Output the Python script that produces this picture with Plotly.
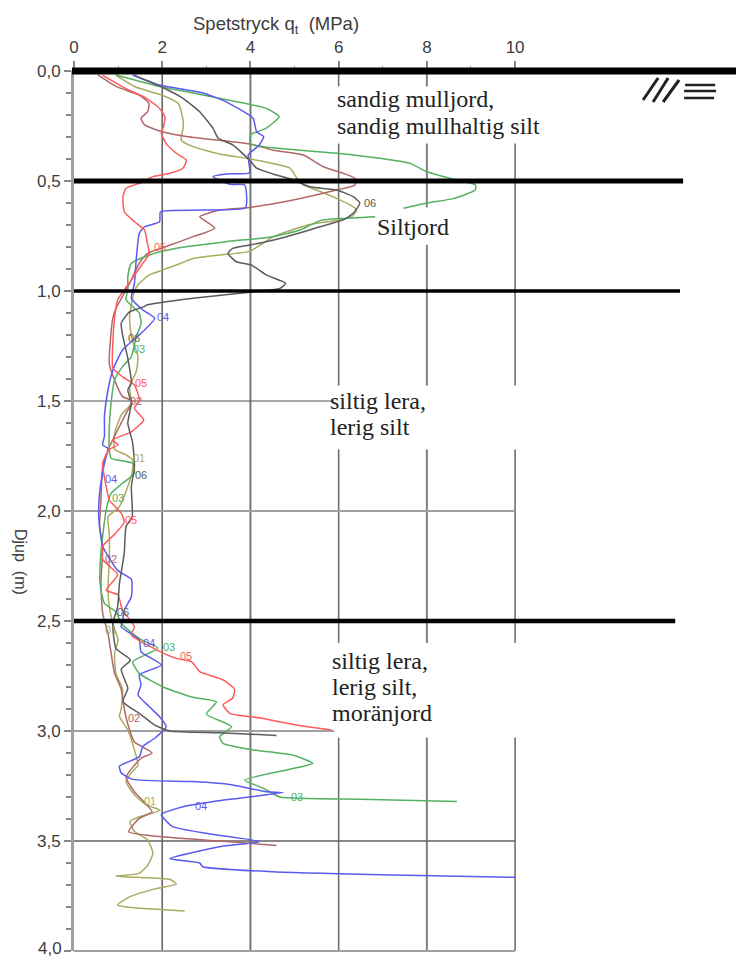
import plotly.graph_objects as go

q01 = [.95,1.41,2.0,2.36,2.45,2.48,2.43,2.7,3.3,3.91,4.5,4.9,5.03,5.2,5.58,5.95,6.26,6.41,6.3,6.03,5.3,4.52,3.98,3.3,2.7,2.32,2.0,1.71,1.48,1.37,1.26,1.3,1.45,1.41,1.26,1.3,1.07,.92,.92,1.18,1.33,1.32,1.22,1.03,.77,.8,.8,.77,.8,.89,1.0,.92,.95,1.1,1.07,1.03,1.22,1.37,1.45,1.3,1.18,1.37,1.64,1.95,1.48,1.27,1.37,1.67,1.79,1.67,1.48,.95,1.64,2.17,2.32,1.79,1.27,.99,1.18,2.51]
d01 = [.02,.074,.11,.147,.2,.253,.314,.344,.377,.397,.42,.442,.48,.518,.548,.579,.609,.632,.662,.677,.7,.753,.82,.836,.852,.882,.905,.927,.965,1.0,1.117,1.208,1.298,1.367,1.435,1.51,1.564,1.647,1.72,1.745,1.768,1.82,1.889,1.98,2.026,2.1,2.22,2.36,2.435,2.52,2.586,2.647,2.738,2.81,2.9,2.935,2.995,3.086,3.155,3.19,3.23,3.29,3.336,3.36,3.39,3.41,3.457,3.495,3.556,3.61,3.647,3.66,3.667,3.674,3.695,3.72,3.753,3.79,3.8,3.818]
q02 = [.54,.95,1.48,1.7,1.67,1.52,1.6,2.0,2.55,3.23,3.98,4.52,5.2,5.65,6.1,6.37,6.37,5.95,4.97,3.98,3.3,2.85,3.0,3.19,2.7,2.09,1.67,1.48,1.26,1.14,.95,.88,.84,.8,.92,1.1,1.33,1.18,.92,.8,.65,.61,.58,.65,.61,.65,.77,.92,1.07,1.14,1.26,1.37,1.77,1.52,1.18,1.37,1.77,1.48,1.24,1.94,3.3,4.59]
d02 = [.018,.07,.11,.147,.185,.215,.245,.276,.298,.314,.332,.36,.382,.435,.465,.488,.518,.541,.586,.62,.632,.662,.685,.715,.753,.798,.829,.874,.965,1.01,1.08,1.124,1.19,1.33,1.405,1.48,1.5,1.556,1.66,1.71,1.8,1.95,2.07,2.16,2.33,2.465,2.556,2.738,2.81,2.9,2.995,3.05,3.1,3.124,3.21,3.276,3.367,3.397,3.458,3.48,3.5,3.52]
q03 = [.95,1.94,2.7,3.6,4.36,4.65,4.36,4.0,4.0,4.29,5.12,5.95,6.94,7.62,8.0,8.53,9.1,9.1,8.6,8,7.47,None,6.83,6.1,5.58,5.12,4.52,3.45,2.32,1.71,1.3,1.22,1.22,1.18,1.48,1.52,1.41,1.3,1.1,.92,.84,.8,.8,.84,1.33,1.37,1.1,.84,.73,.61,.59,.69,.95,1.07,1.48,1.9,1.33,1.48,2.02,2.7,3.23,3.0,3.57,3.3,3.38,4.06,4.97,5.41,4.82,3.87,4.29,4.67,6.5,8.68]
d03 = [.018,.07,.1,.136,.17,.208,.26,.29,.33,.344,.36,.374,.397,.42,.458,.488,.518,.54,.58,.6,.624,None,.662,.67,.68,.723,.753,.776,.806,.836,.874,.935,.995,1.04,1.1,1.147,1.208,1.298,1.344,1.405,1.51,1.617,1.72,1.76,1.783,1.83,1.874,1.92,1.995,2.19,2.33,2.42,2.458,2.51,2.58,2.624,2.685,2.738,2.8,2.847,2.867,2.923,2.98,3.026,3.056,3.086,3.11,3.147,3.177,3.223,3.26,3.3,3.31,3.32]
q04 = [1.33,1.94,2.92,3.45,4.06,4.14,4.3,4.2,3.95,3.98,3.45,3.15,3.53,3.87,3.89,2.85,1.96,1.94,1.6,1.48,1.41,1.37,1.3,1.56,1.83,1.48,1.1,.88,.77,.69,.69,.65,.77,.69,.58,.56,.65,.99,1.3,1.3,1.14,1.1,1.07,1.48,1.52,1.98,1.48,1.52,1.45,1.71,1.94,2.09,1.83,1.56,1.48,1.03,1.07,1.33,2.7,3.6,4.36,4.74,3.16,2.47,1.98,2.24,3.08,4.21,3.3,2.17,2.85,2.92,4.52,7.24,10]
d04 = [.018,.064,.1,.14,.215,.276,.298,.336,.382,.462,.468,.48,.515,.518,.62,.632,.64,.685,.708,.738,.859,.965,1.033,1.086,1.124,1.2,1.268,1.36,1.45,1.57,1.66,1.7,1.715,1.783,1.92,2.026,2.16,2.27,2.31,2.39,2.45,2.5,2.526,2.586,2.64,2.7,2.745,2.79,2.836,2.89,2.935,2.98,3.033,3.07,3.117,3.16,3.19,3.22,3.23,3.245,3.276,3.28,3.32,3.344,3.38,3.435,3.468,3.503,3.526,3.58,3.6,3.617,3.64,3.655,3.665]
q05 = [.65,1.18,1.64,1.94,2.06,2.03,1.98,2.09,2.32,2.55,2.47,2.17,1.79,1.48,1.18,1.11,1.14,1.37,1.6,1.67,1.71,1.56,1.3,1.14,.99,.92,.88,.88,1.1,1.37,1.48,1.37,1.58,1.3,.88,1.0,.8,.65,.73,.8,1.07,1.14,.95,.65,.65,.99,.73,.99,1.1,1.37,1.3,1.86,2.32,2.66,2.85,3.38,3.64,3.6,3.38,3.53,4.2,4.97,5.84]
d05 = [.02,.08,.124,.17,.208,.253,.283,.33,.374,.405,.442,.465,.48,.51,.533,.57,.64,.685,.723,.79,.83,.874,.95,.995,1.04,1.124,1.238,1.35,1.39,1.427,1.495,1.533,1.586,1.64,1.677,1.7,1.72,1.783,1.89,1.95,2.01,2.05,2.1,2.16,2.22,2.29,2.36,2.38,2.45,2.526,2.564,2.63,2.67,2.685,2.73,2.768,2.81,2.85,2.88,2.92,2.94,2.97,2.995]
q06 = [1.37,2.0,2.47,2.85,3.15,3.27,3.6,3.98,4.14,4.59,4.97,5.35,5.95,6.33,6.48,6.33,6.1,5.58,4.82,4.2,3.6,3.49,3.68,4.02,4.36,4.8,4.67,3.76,2.7,1.64,1.6,1.26,1.07,1.11,1.22,1.3,1.22,1.3,1.22,1.33,1.37,1.3,1.32,1.18,1.14,1.03,.99,.88,.95,1.28,1.07,1.22,1.11,1.48,1.83,2.17,3.3,4.59]
d06 = [.02,.074,.124,.185,.26,.306,.336,.405,.442,.473,.495,.526,.541,.571,.6,.647,.677,.708,.753,.783,.806,.829,.867,.882,.927,.965,.988,1.01,1.033,1.064,1.07,1.095,1.147,1.208,1.306,1.42,1.45,1.51,1.6,1.69,1.8,1.89,2.026,2.07,2.19,2.33,2.435,2.51,2.624,2.677,2.72,2.806,2.867,2.92,2.973,3.0,3.008,3.02]

series_names = ["01", "02", "03", "04", "05", "06"]
series_q = [q01, q02, q03, q04, q05, q06]
series_d = [d01, d02, d03, d04, d05, d06]
series_colors = ["#aaaa60", "#b06868", "#55b060", "#5a5af0", "#ff5a5a", "#5c5c5c"]

label_text = ["06","05","04","06","03","05","02","01","06","04","03","05","02","06","01","04","03","05","02","03","04","01"]
label_q = [6.7,1.94,2.01,1.37,1.48,1.52,1.4,1.48,1.52,.84,1.0,1.3,.84,1.11,.84,1.7,2.15,2.53,1.35,5.05,2.89,1.73]
label_d = [.6,.8,1.12,1.215,1.265,1.42,1.5,1.76,1.835,1.855,1.94,2.04,2.22,2.457,2.54,2.6,2.62,2.66,2.94,3.3,3.34,3.317]

x_ticks = [0, 2, 4, 6, 8, 10]
x_minor = [1, 3, 5, 7, 9]
y_ticks = [0, .5, 1, 1.5, 2, 2.5, 3, 3.5, 4]
y_ticktext = ["0,0", "0,5", "1,0", "1,5", "2,0", "2,5", "3,0", "3,5", ""]
y_last_label = "4,0"

soil_text = ["sandig mulljord,", "sandig mullhaltig silt", "Siltjord", "siltig lera,", "lerig silt", "siltig lera,", "lerig silt,", "moränjord"]
soil_q = [5.92, 5.92, 6.83, 5.76, 5.76, 5.81, 5.81, 5.81]
soil_d = [.125, .25, .71, 1.5, 1.62, 2.68, 2.8, 2.92]

INK = "#3d3d3d"
fig = go.Figure()

def line(xs, ys, color, width, shape="linear"):
    fig.add_trace(go.Scatter(x=xs, y=ys, mode="lines", cliponaxis=False, showlegend=False,
                             hoverinfo="skip", line=dict(color=color, width=width, shape=shape,
                                                         **({"smoothing": .5} if shape == "spline" else {}))))

# verticals
line([2, 2], [0, 4], "#666666", 1.6)
line([4, 4], [0, 4], "#777777", 2)
line([6, 6, None, 6, 6, None, 6, 6, None, 6, 6], [0, .07, None, .33, 1.43, None, 1.72, 2.6, None, 3.03, 4], "#707070", 1.6)
line([8, 8, None, 8, 8, None, 8, 8, None, 8, 8, None, 8, 8], [0, .07, None, .33, .62, None, .79, 1.43, None, 1.72, 2.6, None, 3.03, 4], "#808080", 2)
line([10, 10, None, 10, 10, None, 10, 10], [.33, 1.43, None, 1.72, 2.6, None, 3.03, 4], "#707070", 1.6)
# horizontals
line([0, 5.9], [1.5, 1.5], "#555555", 1.2)
line([0, 10], [2, 2], "#a0a0a0", 2)
line([0, 5.9], [3, 3], "#a0a0a0", 2)
line([0, 10], [3.5, 3.5], "#606060", 1.4)

for q, d, c in zip(series_q, series_d, series_colors):
    line(q, d, c, 1.5, "spline")

line([0, 13.81], [.5, .5], "#000000", 5)
line([0, 13.74], [1, 1], "#000000", 3.5)
line([0, 13.63], [2.5, 2.5], "#000000", 4.5)

annotations = []
color_of = dict(zip(series_names, series_colors))
for t, q, d in zip(label_text, label_q, label_d):
    annotations.append(dict(x=q, y=d, text=t, showarrow=False, xanchor="center", yanchor="middle",
                            font=dict(family="Liberation Sans", size=11, color=color_of[t])))
for t, q, d in zip(soil_text, soil_q, soil_d):
    annotations.append(dict(x=q, y=d, text=t, showarrow=False, xanchor="left", yanchor="middle",
                            font=dict(family="Liberation Serif", size=24, color="#222222")))
annotations.append(dict(xref="paper", yref="paper", x=(276 - 74) / 670, y=(951 - 25) / 880, text="Spetstryck q<sub>t</sub>  (MPa)",
                        showarrow=False, xanchor="center", yanchor="middle", font=dict(family="Liberation Sans", size=18.5, color=INK)))
annotations.append(dict(xref="paper", yref="paper", x=(21 - 74) / 670, y=(951 - 562) / 880, text="Djup  (m)", textangle=90,
                        showarrow=False, xanchor="center", yanchor="middle", font=dict(family="Liberation Sans", size=16, color=INK)))
# the last depth label sits hard on the page's lower edge, so it is placed to stay inside
annotations.append(dict(xref="paper", yref="paper", x=(63 - 74) / 670, y=(951 - 948) / 880, text=y_last_label, borderpad=0,
                        showarrow=False, xanchor="right", yanchor="middle", font=dict(family="Liberation Sans", size=17, color=INK)))

def px(x0, y0, x1, y1, width):
    return dict(type="line", x0=(x0 - 74) / 44.1, x1=(x1 - 74) / 44.1, y0=(y0 - 71) / 220, y1=(y1 - 71) / 220,
                line=dict(color="#222222", width=width), layer="above")

shapes = [px(643, 100, 658, 78, 3), px(653, 102, 668, 78, 3), px(663, 102, 679, 80, 3),
          px(685, 85, 715, 85, 2.5), px(684, 91, 716, 91, 2.5), px(684, 98, 714, 98, 2.5),
          # lines on the plot's own edges, which a trace would have half clipped
          dict(type="line", xref="paper", yref="paper", x0=-.003, x1=1, y0=1, y1=1, line=dict(color="#000000", width=7), layer="above"),
          dict(type="line", xref="paper", yref="paper", x0=0, x1=10 / 15.19, y0=0, y1=0, line=dict(color="#a0a0a0", width=2), layer="above")]

# the page sets the figure 8 px in from its corner, so the margins allow for that
fig.update_layout(
    width=736, height=951, autosize=False, margin=dict(l=66, r=0, t=63, b=8),
    paper_bgcolor="white", plot_bgcolor="white", showlegend=False,
    annotations=annotations, shapes=shapes,
    xaxis=dict(range=[0, 15.19], side="top", tickmode="array", tickvals=x_ticks, ticktext=[str(v) for v in x_ticks],
               showgrid=False, zeroline=False, showline=False, ticks="outside", ticklen=9, tickwidth=1.5, tickcolor="#888888",
               ticklabelstandoff=1, tickfont=dict(family="Liberation Sans", size=17, color=INK),
               minor=dict(tickmode="array", tickvals=x_minor, ticks="outside", ticklen=4, tickwidth=1, tickcolor="#999999", showgrid=False)),
    yaxis=dict(range=[4, 0], tickmode="array", tickvals=y_ticks, ticktext=y_ticktext,
               showgrid=False, zeroline=False, showline=True, linewidth=3, linecolor="#a0a0a0",
               ticks="outside", ticklen=7, tickwidth=1.5, tickcolor="#888888",
               tickfont=dict(family="Liberation Sans", size=17, color=INK),
               minor=dict(dtick=.1, ticks="outside", ticklen=5, tickwidth=2, tickcolor="#888888", showgrid=False)),
)
fig.write_html("out.html", config=dict(displayModeBar=False))
